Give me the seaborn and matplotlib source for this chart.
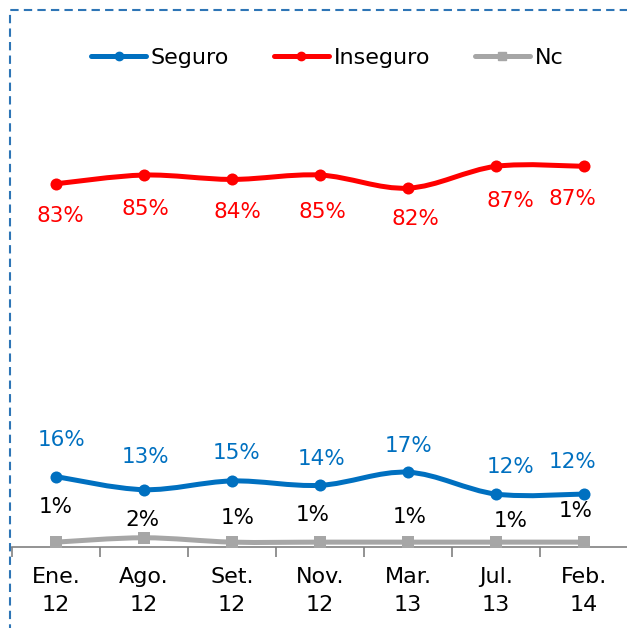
import numpy as np
import pandas as pd
import seaborn as sb
import matplotlib
matplotlib.use("Agg")
import matplotlib.pyplot as plt
from matplotlib.path import Path
from matplotlib.patches import PathPatch, Rectangle
from matplotlib.lines import Line2D

# Datos
periodos = ["Ene.\n12", "Ago.\n12", "Set.\n12", "Nov.\n12", "Mar.\n13", "Jul.\n13", "Feb.\n14"]
seguro = [16, 13, 15, 14, 17, 12, 12]
inseguro = [83, 85, 84, 85, 82, 87, 87]
nc = [1, 2, 1, 1, 1, 1, 1]

# desplazamientos de etiquetas (px) a mano, como en el original
off_seguro = [(6, 37), (1, 33), (5, 28), (2, 26), (1, 26), (15, 27), (-11, 32)]
off_inseguro = [(4, -32), (1, -34), (5, -33), (2, -37), (7, -31), (14, -35), (-12, -33)]
off_nc = [(0, 35), (-2, 18), (6, 24), (-7, 27), (2, 25), (15, 21), (-8, 31)]

sb.set_theme(style="white")
plt.rcParams["font.family"] = ["DejaVu Sans"]
plt.rcParams["text.color"] = "black"
plt.rcParams["xtick.color"] = "black"

fig = plt.figure(figsize=(6.27, 6.28), dpi=100)
ax = fig.add_axes([12 / 627, (628 - 546.5) / 628, 616 / 627, 437 / 628])

x = np.arange(len(periodos))


def curva_suave(ax, xs, ys, color, lw):
    # spline tipo Catmull-Rom convertido a Bezier cúbico
    pts = np.column_stack([xs, ys]).astype(float)
    n = len(pts)
    verts = [pts[0]]
    codes = [Path.MOVETO]
    for i in range(n - 1):
        p0 = pts[i - 1] if i > 0 else pts[i]
        p1 = pts[i]
        p2 = pts[i + 1]
        p3 = pts[i + 2] if i + 2 < n else pts[i + 1]
        c1 = p1 + (p2 - p0) / 6.0
        c2 = p2 - (p3 - p1) / 6.0
        verts += [c1, c2, p2]
        codes += [Path.CURVE4] * 3
    patch = PathPatch(Path(verts, codes), facecolor="none", edgecolor=color,
                      lw=lw, capstyle="round", joinstyle="round", zorder=2)
    ax.add_patch(patch)


series = [
    ("Seguro", seguro, "#0070C0", "o", "#0070C0", off_seguro),
    ("Inseguro", inseguro, "#FF0000", "o", "#FF0000", off_inseguro),
    ("Nc", nc, "#A6A6A6", "s", "black", off_nc),
]

for nombre, vals, color, marca, color_txt, offs in series:
    curva_suave(ax, x, vals, color, 3.6)
    sb.scatterplot(x=x, y=vals, marker=marca, s=75, color=color,
                   edgecolor=color, linewidth=0, ax=ax, zorder=3, legend=False)
    for xi, v, (dx, dy) in zip(x, vals, offs):
        ax.annotate(f"{v}%", (xi, v), xytext=(dx * 0.72, dy * 0.72),
                    textcoords="offset points", ha="center", va="center",
                    fontsize=15.5, color=color_txt)

ax.set_xlim(-0.5, len(periodos) - 0.5)
ax.set_ylim(0, 100)
ax.set_yticks([])
ax.set_xticks(x)
ax.set_xticklabels(periodos, fontsize=16, linespacing=1.45, color="black")
ax.set_xticks(np.arange(-0.5, len(periodos) - 0.4, 1), minor=True)
ax.tick_params(axis="x", which="major", length=0, pad=15)
ax.tick_params(axis="x", which="minor", bottom=True, length=7, width=1.2,
               color="#808080", direction="out")
for lado in ["top", "right", "left"]:
    ax.spines[lado].set_visible(False)
ax.spines["bottom"].set_color("#808080")
ax.spines["bottom"].set_linewidth(1.2)
ax.set_xlabel("")
ax.set_ylabel("")
ax.patch.set_alpha(0)

# leyenda
manejadores = [Line2D([0], [0], color=c, lw=3.6, marker=m, markersize=6)
               for _, _, c, m, _, _ in series]
fig.legend(manejadores, [s[0] for s in series], loc="center",
           bbox_to_anchor=(327 / 627, 1 - 58 / 628), ncol=3, frameon=False,
           fontsize=16, handlelength=2.5, handletextpad=0.2, columnspacing=2.0,
           labelcolor="black")

# borde discontinuo
borde = Rectangle((10 / 627, -0.1), 1.2, (628 - 10) / 628 + 0.1, transform=fig.transFigure,
                  fill=False, edgecolor="#2E75B6", lw=1.5, linestyle=(0, (4, 2.5)),
                  clip_on=False)
fig.patches.append(borde)

fig.savefig("out.png", dpi=100)
